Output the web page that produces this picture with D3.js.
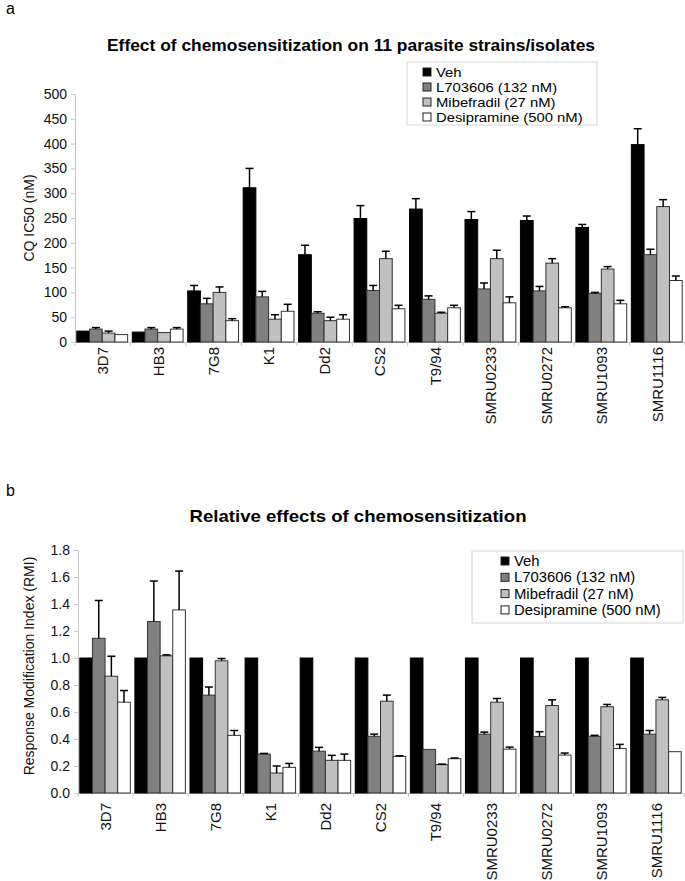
<!DOCTYPE html>
<html>
<head>
<meta charset="utf-8">
<script src="https://cdn.jsdelivr.net/npm/d3@7"></script>
<style>
  html, body { margin: 0; padding: 0; background: #fff; }
  svg { display: block; font-family: "Liberation Sans", Arial, sans-serif; }
</style>
</head>
<body>
<svg id="chart" width="685" height="881"></svg>
<script>
// ---------- data ----------
const categories = ["3D7","HB3","7G8","K1","Dd2","CS2","T9/94","SMRU0233","SMRU0272","SMRU1093","SMRU1116"];
const seriesNames = ["Veh","L703606 (132 nM)","Mibefradil (27 nM)","Desipramine (500 nM)"];
const seriesColors = ["#000000","#808080","#c0c0c0","#ffffff"];

// Panel a: CQ IC50 (nM)
const vehIC50 = [22, 20, 103, 311, 176, 249, 268, 247, 245, 231, 398];
const l7IC50  = [26, 26, 77, 91, 58, 104, 86, 107, 103, 98, 176];
const mibIC50 = [18, 19, 100, 46, 43, 168, 58, 168, 159, 147, 273];
const desIC50 = [15, 26, 43, 62, 46, 67, 69, 79, 69, 77, 124];
const vehIC50Err = [0, 0, 11, 39, 19, 26, 21, 16, 9, 6, 32];
const l7IC50Err  = [3, 3, 11, 11, 3, 10, 7, 12, 9, 2, 11];
const mibIC50Err = [4, 0, 11, 9, 7, 15, 2, 17, 9, 5, 14];
const desIC50Err = [0, 3, 4, 14, 9, 7, 5, 12, 2, 7, 9];
const ic50Ticks = [0,50,100,150,200,250,300,350,400,450,500];

// Panel b: RMI
const vehRMI = [1,1,1,1,1,1,1,1,1,1,1];
const l7RMI  = [1.146, 1.27, 0.725, 0.288, 0.31, 0.42, 0.323, 0.436, 0.419, 0.42, 0.436];
const mibRMI = [0.865, 1.016, 0.979, 0.148, 0.242, 0.68, 0.21, 0.673, 0.648, 0.639, 0.69];
const desRMI = [0.673, 1.356, 0.427, 0.19, 0.242, 0.271, 0.254, 0.325, 0.281, 0.33, 0.306];
const vehRMIErr = [0,0,0,0,0,0,0,0,0,0,0];
const l7RMIErr  = [0.28, 0.30, 0.06, 0.005, 0.028, 0.016, 0, 0.015, 0.035, 0.007, 0.027];
const mibRMIErr = [0.148, 0.007, 0.017, 0.052, 0.037, 0.045, 0.004, 0.027, 0.042, 0.017, 0.018];
const desRMIErr = [0.086, 0.288, 0.036, 0.029, 0.046, 0.005, 0.005, 0.015, 0.015, 0.03, 0];
const rmiTicks = [0,0.2,0.4,0.6,0.8,1.0,1.2,1.4,1.6,1.8];

// ---------- drawing ----------
const svg = d3.select("#chart");
const FONT = '"Liberation Sans", Arial, sans-serif';

function drawPanel(cfg) {
  const g = svg.append("g");
  const x0 = d3.scaleBand().domain(categories).range([cfg.left, cfg.right]).padding(0);
  const x1 = d3.scaleBand().domain(seriesNames).range([1.8, x0.bandwidth() - 2.8]).padding(0);
  const y = d3.scaleLinear().domain(cfg.domain).range([cfg.bottom, cfg.top]);

  // y axis
  const yAxis = d3.axisLeft(y).tickValues(cfg.ticks).tickFormat(cfg.fmt).tickSize(4).tickSizeOuter(0).tickPadding(4);
  const ya = g.append("g").attr("transform", `translate(${cfg.left},0)`).call(yAxis);
  ya.select(".domain").attr("stroke", "#c8c8c8");
  ya.selectAll(".tick line").attr("stroke", "#c8c8c8");
  ya.selectAll(".tick text").attr("font-size", 14).attr("font-family", FONT).attr("fill", "#111");

  // x axis (labels)
  const xAxis = d3.axisBottom(x0).tickSize(0).tickSizeOuter(0);
  const xa = g.append("g").attr("transform", `translate(0,${cfg.bottom})`).call(xAxis);
  xa.select(".domain").attr("stroke", "#c8c8c8");
  xa.selectAll(".tick text")
    .attr("font-size", 15).attr("font-family", FONT).attr("fill", "#111")
    .attr("transform", "rotate(-90)")
    .attr("x", -cfg.labelGap).attr("y", 0).attr("dy", "0.36em")
    .style("text-anchor", "end");
  // boundary ticks
  const bounds = categories.map(c => x0(c)).concat([x0.range()[1]]);
  g.append("g").selectAll("line").data(bounds).join("line")
    .attr("x1", d => d).attr("x2", d => d)
    .attr("y1", cfg.bottom).attr("y2", cfg.bottom + 4)
    .attr("stroke", "#c8c8c8");

  // bars
  const rows = [];
  categories.forEach((c, i) => {
    seriesNames.forEach((s, j) => {
      rows.push({c, s, j, v: cfg.values[j][i], e: cfg.errs[j][i]});
    });
  });
  const bars = g.append("g");
  bars.selectAll("rect").data(rows).join("rect")
    .attr("x", d => x0(d.c) + x1(d.s))
    .attr("y", d => y(d.v))
    .attr("width", x1.bandwidth())
    .attr("height", d => y(cfg.domain[0]) - y(d.v))
    .attr("fill", d => seriesColors[d.j])
    .attr("stroke", d => d.j === 0 ? "#000" : "#333")
    .attr("stroke-width", 1);

  // error bars (upper only)
  const eb = g.append("g").attr("stroke", "#000").attr("stroke-width", 1.5);
  const er = rows.filter(d => d.e > 0);
  eb.selectAll("line.v").data(er).join("line").attr("class", "v")
    .attr("x1", d => x0(d.c) + x1(d.s) + x1.bandwidth() / 2)
    .attr("x2", d => x0(d.c) + x1(d.s) + x1.bandwidth() / 2)
    .attr("y1", d => y(d.v)).attr("y2", d => y(d.v + d.e));
  eb.selectAll("line.c").data(er).join("line").attr("class", "c")
    .attr("x1", d => x0(d.c) + x1(d.s) + x1.bandwidth() / 2 - 4)
    .attr("x2", d => x0(d.c) + x1(d.s) + x1.bandwidth() / 2 + 4)
    .attr("y1", d => y(d.v + d.e)).attr("y2", d => y(d.v + d.e));

  // y title
  svg.append("text")
    .attr("transform", `translate(${cfg.ytitleX},${cfg.ytitleY}) rotate(-90)`)
    .attr("text-anchor", "middle")
    .attr("font-size", 14).attr("font-family", FONT).attr("fill", "#111")
    .text(cfg.ytitle);

  // title
  svg.append("text")
    .attr("x", cfg.titleX).attr("y", cfg.titleY)
    .attr("text-anchor", "middle")
    .attr("font-size", 17).attr("font-weight", "bold").attr("font-family", FONT).attr("fill", "#000")
    .attr("textLength", cfg.titleLen).attr("lengthAdjust", "spacingAndGlyphs")
    .text(cfg.title);

  // panel letter
  svg.append("text").attr("x", 6).attr("y", cfg.letterY)
    .attr("font-size", 16).attr("font-family", FONT).attr("fill", "#000").text(cfg.letter);

  // legend
  const L = cfg.legend;
  const lg = svg.append("g");
  lg.append("rect").attr("x", L.x).attr("y", L.y).attr("width", L.w).attr("height", L.h)
    .attr("fill", "#fff").attr("stroke", "#d4d4d4");
  const items = lg.selectAll("g").data(seriesNames).join("g")
    .attr("transform", (d, i) => `translate(${L.x + L.sx},${L.y + L.first + i * L.step})`);
  items.append("rect").attr("x", 0).attr("y", -9).attr("width", 8).attr("height", 8)
    .attr("fill", (d, i) => seriesColors[i]).attr("stroke", "#222");
  items.append("text").attr("x", 13).attr("y", 0)
    .attr("font-size", L.fs).attr("font-family", FONT).attr("fill", "#000").text(d => d)
    .each(function () {
      const len = this.getComputedTextLength();
      d3.select(this).attr("textLength", len * L.stretch).attr("lengthAdjust", "spacingAndGlyphs");
    });
}

drawPanel({
  left: 75, right: 685, top: 94, bottom: 342,
  domain: [0, 500], ticks: ic50Ticks, fmt: d3.format("d"),
  values: [vehIC50, l7IC50, mibIC50, desIC50],
  errs: [vehIC50Err, l7IC50Err, mibIC50Err, desIC50Err],
  labelGap: 5,
  ytitle: "CQ IC50 (nM)", ytitleX: 34, ytitleY: 218,
  title: "Effect of chemosensitization on 11 parasite strains/isolates", titleX: 351, titleY: 51, titleLen: 488,
  letter: "a", letterY: 14,
  legend: {x: 407, y: 62, w: 190, h: 63, sx: 16, first: 15, step: 15, fs: 13, stretch: 1.14}
});

drawPanel({
  left: 78, right: 684, top: 550, bottom: 793,
  domain: [0, 1.8], ticks: rmiTicks, fmt: d3.format(".1f"),
  values: [vehRMI, l7RMI, mibRMI, desRMI],
  errs: [vehRMIErr, l7RMIErr, mibRMIErr, desRMIErr],
  labelGap: 10,
  ytitle: "Response Modification Index (RMI)", ytitleX: 34, ytitleY: 666,
  title: "Relative effects of chemosensitization", titleX: 358, titleY: 522, titleLen: 337,
  letter: "b", letterY: 496,
  legend: {x: 472, y: 551, w: 211, h: 72, sx: 29, first: 15, step: 16.3, fs: 14, stretch: 1.06}
});
</script>
</body>
</html>
